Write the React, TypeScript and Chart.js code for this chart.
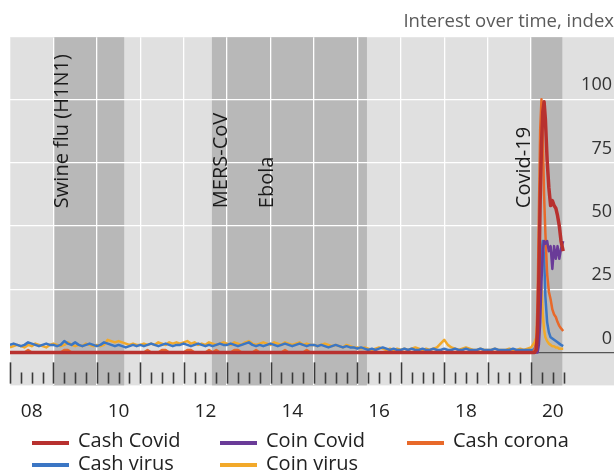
import React, { useEffect, useRef } from 'react';
import { Chart, registerables } from 'chart.js';

Chart.register(...registerables);

const FONT = "'Open Sans', 'Noto Sans', sans-serif";

// ---- data ----
const subtitle = 'Interest over time, index';
const seriesNames = ['Cash Covid', 'Coin Covid', 'Cash corona', 'Cash virus', 'Coin virus'];
const seriesColors = ['#b8312f', '#6a3b98', '#e8692a', '#3b76c4', '#f2a92a'];

// event bands (decimal years)
const bandStarts = [2008.99, 2012.65, 2020.0];
const bandEnds = [2010.63, 2016.22, 2020.72];
const bandLabels = ['Swine flu (H1N1)', 'MERS-CoV', 'Ebola', 'Covid-19'];
const bandLabelYears = [2008.99, 2012.65, 2013.72, 2020.0];
const bandLabelSides = ['after', 'after', 'after', 'before'];
const bandLabelValue = 57;

const yTickValues = [0, 25, 50, 75, 100];
const xLabelYears = [2008, 2010, 2012, 2014, 2016, 2018, 2020];
const gridYears = [2008, 2009, 2010, 2011, 2012, 2013, 2014, 2015, 2016, 2017, 2018, 2019, 2020];

// monthly values Jan 2008 .. Dec 2019 (one row per year)
const cashCovidMonthly = [
  0, 0, 0, 0, 0, 0, 0, 0, 0, 0, 0, 0,
  0, 0, 0, 0, 0, 0, 0, 0, 0, 0, 0, 0,
  0, 0, 0, 0, 0, 0, 0, 0, 0, 0, 0, 0,
  0, 0, 0, 0, 0, 0, 0, 0, 0, 0, 0, 0,
  0, 0, 0, 0, 0, 0, 0, 0, 0, 0, 0, 0,
  0, 0, 0, 0, 0, 0, 0, 0, 0, 0, 0, 0,
  0, 0, 0, 0, 0, 0, 0, 0, 0, 0, 0, 0,
  0, 0, 0, 0, 0, 0, 0, 0, 0, 0, 0, 0,
  0, 0, 0, 0, 0, 0, 0, 0, 0, 0, 0, 0,
  0, 0, 0, 0, 0, 0, 0, 0, 0, 0, 0, 0,
  0, 0, 0, 0, 0, 0, 0, 0, 0, 0, 0, 0,
  0, 0, 0, 0, 0, 0, 0, 0, 0, 0, 0, 0,
];
const coinCovidMonthly = [
  0, 0, 0, 0, 0, 0, 0, 0, 0, 0, 0, 0,
  0, 0, 0, 0, 0, 0, 0, 0, 0, 0, 0, 0,
  0, 0, 0, 0, 0, 0, 0, 0, 0, 0, 0, 0,
  0, 0, 0, 0, 0, 0, 0, 0, 0, 0, 0, 0,
  0, 0, 0, 0, 0, 0, 0, 0, 0, 0, 0, 0,
  0, 0, 0, 0, 0, 0, 0, 0, 0, 0, 0, 0,
  0, 0, 0, 0, 0, 0, 0, 0, 0, 0, 0, 0,
  0, 0, 0, 0, 0, 0, 0, 0, 0, 0, 0, 0,
  0, 0, 0, 0, 0, 0, 0, 0, 0, 0, 0, 0,
  0, 0, 0, 0, 0, 0, 0, 0, 0, 0, 0, 0,
  0, 0, 0, 0, 0, 0, 0, 0, 0, 0, 0, 0,
  0, 0, 0, 0, 0, 0, 0, 0, 0, 0, 0, 0,
];
const cashCoronaMonthly = [
  0, 0, 0, 0, 0, 1, 0, 0, 0, 0, 0, 0,
  0, 0, 0, 1, 1, 0, 0, 0, 0, 0, 0, 0,
  0, 0, 0, 0, 0, 0, 0, 0, 0, 0, 0, 0,
  0, 0, 1, 0, 0, 0, 1, 1, 0, 0, 0, 0,
  0, 1, 1, 0, 0, 0, 0, 1, 0, 1, 0, 0,
  0, 0, 1, 1, 0, 0, 0, 0, 1, 0, 0, 0,
  0, 0, 0, 0, 1, 0, 0, 0, 0, 0, 1, 0,
  0, 0, 0, 0, 0, 0, 0, 0, 0, 0, 0, 0,
  0, 0, 0, 0, 0, 0, 0, 0, 0, 0, 0, 0,
  0, 0, 0, 0, 0, 0, 0, 0, 0, 0, 0, 0,
  0, 0, 0, 0, 0, 0, 0, 0, 0, 0, 0, 0,
  0, 0, 0, 0, 0, 0, 0, 0, 0, 0, 0, 0,
];
const cashVirusMonthly = [
  3, 3.5, 3, 2.5, 3, 4, 3.5, 3, 2.5, 3, 3.5, 3,
  3, 2.5, 3, 4.5, 3.5, 3, 4, 3, 2.5, 3, 3.5, 3,
  2.5, 3, 4, 3.5, 3, 2.5, 3, 2.5, 2, 2.5, 3, 2.5,
  3, 2.5, 3, 3.5, 3, 2.5, 3, 3.5, 3, 2.5, 3, 3,
  3.5, 3, 2.5, 3, 3.5, 3, 2.5, 3, 2.5, 3, 3.5, 3,
  3, 3.5, 3, 2.5, 3, 3.5, 4, 3, 2.5, 3, 2.5, 3,
  3.5, 3, 2.5, 3, 3.5, 3, 2.5, 3, 3.5, 3, 2.5, 3,
  3, 2.5, 3, 2.5, 2, 2.5, 3, 2.5, 2, 2.5, 2, 2,
  1.5, 2, 1.5, 1, 1.5, 1, 1.5, 2, 1.5, 1, 1.5, 1,
  1, 1.5, 1, 1.5, 1, 1, 1.5, 1, 1, 1.5, 1, 1,
  1.5, 1, 1, 1.5, 1, 1, 1.5, 1, 1, 1, 1.5, 1,
  1, 1, 1.5, 1, 1, 1, 1, 1.5, 1, 1, 1, 1,
];
const coinVirusMonthly = [
  2, 2.5, 3, 2.5, 2, 3, 2.5, 3.5, 3, 2.5, 2, 3,
  3.5, 3, 2.5, 3, 4, 3, 2.5, 3, 2.5, 3.5, 3, 2.5,
  3, 2.5, 3, 5, 4.5, 4, 4.5, 4, 3.5, 3, 3.5, 3,
  3, 3.5, 3, 3.5, 3, 4, 3.5, 3, 4, 3.5, 4, 3.5,
  4, 4.5, 3.5, 4, 3, 3.5, 3, 4, 3.5, 3, 3.5, 4,
  3.5, 3, 4, 3.5, 3, 4, 4.5, 3.5, 3, 3.5, 4, 3.5,
  3, 4, 3.5, 3, 4, 3.5, 3, 3.5, 4, 3, 3.5, 3,
  3, 2.5, 3, 3.5, 3, 2.5, 3, 2.5, 2, 3, 2.5, 2,
  2, 1.5, 2, 1.5, 1, 1.5, 2, 1.5, 1, 1.5, 1, 1.5,
  1, 1.5, 1, 1.5, 2, 1.5, 1, 1.5, 1, 1.5, 2, 3.5,
  5, 3, 2, 1.5, 1, 1.5, 2, 1.5, 1, 1, 1.5, 1,
  1, 1, 1.5, 1, 1, 1, 1.5, 1, 1, 1.5, 1, 1.5,
];

// 2020 at finer resolution
const dates2020 = [2020.0, 2020.04, 2020.08, 2020.12, 2020.15, 2020.18, 2020.21, 2020.24, 2020.27, 2020.3, 2020.33, 2020.37, 2020.41, 2020.45, 2020.49, 2020.53, 2020.57, 2020.61, 2020.65, 2020.69, 2020.74];
const cashCovid2020 = [0, 0, 0, 1, 8, 30, 60, 82, 95, 99, 92, 76, 65, 58, 60, 58, 57, 54, 50, 44, 40];
const coinCovid2020 = [0, 0, 0, 0, 0, 3, 12, 28, 40, 44, 43, 44, 40, 42, 33, 42, 37, 42, 37, 41, 44];
const cashCorona2020 = [0, 0, 1, 4, 20, 55, 88, 100, 85, 62, 47, 31, 24, 21, 17, 15, 14, 12, 10.5, 9.5, 8.5];
const cashVirus2020 = [1, 1, 1.5, 3, 8, 18, 32, 40, 44, 38, 22, 12, 8, 6, 5.5, 5, 4.5, 4, 3.5, 3, 2.5];
const coinVirus2020 = [2, 3, 4, 6, 12, 22, 30, 25, 15, 9, 6, 4.5, 3.5, 3, 2.5, 2.5, 2, 2, 1.5, 1.5, 1.5];

const firstYear = 2008;
const monthlyDates = cashVirusMonthly.map((_, i) => firstYear + i / 12);
const dates = monthlyDates.concat(dates2020);
const allSeries = [
  cashCovidMonthly.concat(cashCovid2020),
  coinCovidMonthly.concat(coinCovid2020),
  cashCoronaMonthly.concat(cashCorona2020),
  cashVirusMonthly.concat(cashVirus2020),
  coinVirusMonthly.concat(coinVirus2020),
];

const overlayPlugin = {
  id: 'overlay',
  beforeDraw(chart: any) {
    const { ctx, chartArea: a, scales } = chart;
    const x = scales.x;
    ctx.save();
    ctx.fillStyle = '#e0e0e0';
    ctx.fillRect(a.left, a.top, a.right - a.left, a.bottom - a.top);
    ctx.fillStyle = '#b8b8b8';
    bandStarts.forEach((s, i) => {
      const x0 = x.getPixelForValue(s);
      const x1 = x.getPixelForValue(bandEnds[i]);
      ctx.fillRect(x0, a.top, x1 - x0, a.bottom - a.top);
    });
    ctx.restore();
  },
  beforeDatasetsDraw(chart: any) {
    const { ctx, scales } = chart;
    const x = scales.x;
    const y = scales.y;
    const size = 20;
    ctx.save();
    ctx.font = `${size}px ${FONT}`;
    ctx.fillStyle = '#1a1a1a';
    ctx.textAlign = 'left';
    ctx.textBaseline = 'alphabetic';
    const yStart = y.getPixelForValue(bandLabelValue);
    bandLabels.forEach((t, i) => {
      const px = x.getPixelForValue(bandLabelYears[i]);
      const bx = bandLabelSides[i] === 'after' ? px + size * 0.74 : px - 1;
      ctx.save();
      ctx.translate(bx, yStart);
      ctx.rotate(-Math.PI / 2);
      ctx.fillText(t, 0, 0);
      ctx.restore();
    });
    ctx.restore();
  },
  afterDatasetsDraw(chart: any) {
    const { ctx, scales } = chart;
    const x = scales.x;
    const y = scales.y;
    const yBottom = y.getPixelForValue(-12.3);
    const yTall = y.getPixelForValue(-3.9);
    const yShort = y.getPixelForValue(-7.9);
    ctx.save();
    ctx.strokeStyle = '#3a3a3a';
    ctx.lineWidth = 1.6;
    const last = gridYears[gridYears.length - 1];
    for (let q = 0; q <= (last - firstYear) * 4 + 3; q++) {
      const px = Math.round(x.getPixelForValue(firstYear + q / 4)) + 0.5;
      ctx.beginPath();
      ctx.moveTo(px, q % 4 === 0 ? yTall : yShort);
      ctx.lineTo(px, yBottom);
      ctx.stroke();
    }
    ctx.restore();
  },
};

export default function App() {
  const canvasRef = useRef<HTMLCanvasElement | null>(null);

  useEffect(() => {
    const canvas = canvasRef.current;
    if (!canvas) return;
    const datasets = seriesNames.map((name, k) => ({
      label: name,
      data: dates.map((d, i) => ({ x: d, y: allSeries[k][i] })),
      borderColor: seriesColors[k],
      backgroundColor: seriesColors[k],
      borderWidth: k === 0 ? 3.5 : 2.5,
      pointRadius: 0,
      tension: 0,
      fill: false,
      borderJoinStyle: 'round' as const,
    }));
    const xTicks: number[] = [];
    gridYears.forEach((yr) => {
      xTicks.push(yr);
      if (xLabelYears.includes(yr)) xTicks.push(yr + 0.5);
    });
    const chart = new Chart(canvas, {
      type: 'line',
      data: { datasets },
      plugins: [overlayPlugin],
      options: {
        responsive: false,
        animation: false,
        devicePixelRatio: 1,
        layout: { padding: { left: 10, right: 0, top: 0, bottom: 0 } },
        plugins: {
          legend: { display: false },
          tooltip: { enabled: false },
          title: {
            display: true,
            text: subtitle,
            align: 'end',
            color: '#5a5a5a',
            font: { family: FONT, size: 18.5, weight: 'normal' },
            padding: { top: 11, bottom: 4 },
          },
        },
        scales: {
          x: {
            type: 'linear',
            min: 2008,
            max: 2021.91,
            afterBuildTicks: (s: any) => {
              s.ticks = xTicks.map((v) => ({ value: v }));
            },
            grid: {
              color: (c: any) => (c.tick && Number.isInteger(c.tick.value) ? '#ffffff' : 'rgba(0,0,0,0)'),
              lineWidth: 1.3,
              drawTicks: false,
            },
            border: { display: false },
            ticks: {
              autoSkip: false,
              maxRotation: 0,
              padding: 10,
              color: '#222222',
              font: { family: FONT, size: 19, lineHeight: 1.663 },
              callback: (v: any) => {
                const n = Number(v);
                if (Number.isInteger(n)) return '';
                return String(Math.floor(n)).slice(2);
              },
            },
          },
          y: {
            position: 'right',
            min: -13,
            max: 124.5,
            afterBuildTicks: (s: any) => {
              s.ticks = yTickValues.map((v) => ({ value: v }));
            },
            afterFit: (s: any) => {
              s.width = 0;
            },
            grid: {
              color: (c: any) => (c.tick && c.tick.value === 0 ? '#555555' : '#ffffff'),
              lineWidth: 1.3,
              drawTicks: false,
            },
            border: { display: false },
            ticks: {
              mirror: true,
              padding: -2,
              labelOffset: -14,
              color: '#333333',
              font: { family: FONT, size: 18 },
            },
          },
        },
      },
    });
    return () => chart.destroy();
  }, []);

  const colX = [32, 220, 407];
  const rowSwatch = [441, 463];
  const rowText = [426, 448.5];

  return (
    <div style={{ position: 'fixed', left: 0, top: 0, width: 614, height: 476, background: '#ffffff', overflow: 'hidden' }}>
      <canvas ref={canvasRef} width={614} height={437} style={{ position: 'absolute', left: 0, top: 0 }} />
      {seriesNames.map((name, i) => {
        const col = i % 3;
        const row = Math.floor(i / 3);
        return (
          <React.Fragment key={name}>
            <div style={{ position: 'absolute', left: colX[col], top: rowSwatch[row], width: 37, height: 4, background: seriesColors[i] }} />
            <div style={{ position: 'absolute', left: colX[col] + 46, top: rowText[row], font: `20px ${FONT}`, lineHeight: '28px', color: '#222222', whiteSpace: 'nowrap' }}>
              {name}
            </div>
          </React.Fragment>
        );
      })}
    </div>
  );
}
